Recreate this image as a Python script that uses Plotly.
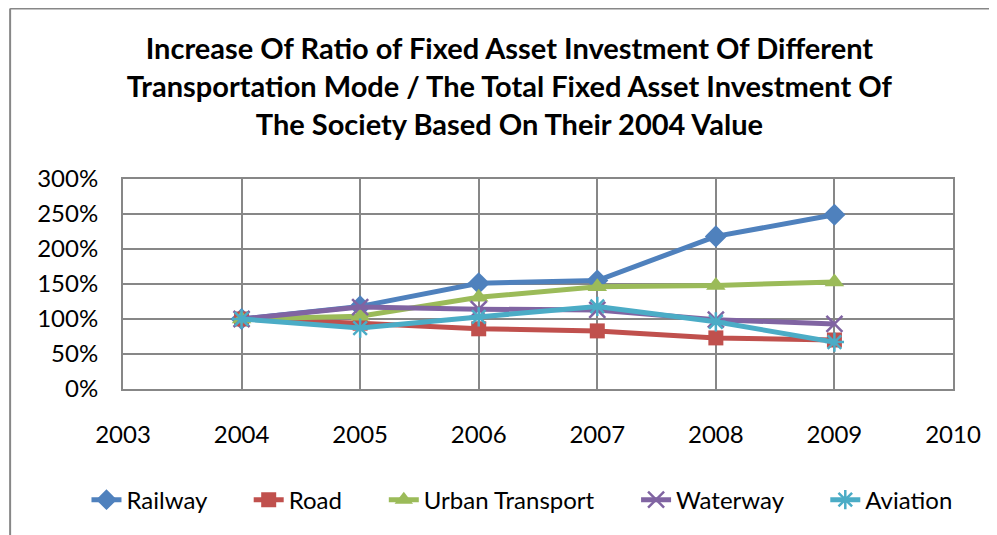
import plotly.graph_objects as go

years = [2004, 2005, 2006, 2007, 2008, 2009]
railway = [1.00, 1.18, 1.51, 1.55, 2.18, 2.49]
road = [1.00, 0.94, 0.86, 0.83, 0.73, 0.70]
urban = [1.00, 1.04, 1.31, 1.46, 1.48, 1.53]
waterway = [1.00, 1.17, 1.14, 1.13, 0.99, 0.93]
aviation = [1.00, 0.87, 1.03, 1.18, 0.96, 0.67]

names = ["Railway", "Road", "Urban Transport", "Waterway", "Aviation"]
values = [railway, road, urban, waterway, aviation]
colors = ["#4F81BD", "#C0504D", "#9BBB59", "#8064A2", "#4BACC6"]
symbols = ["diamond", "square", "triangle-up", "x-thin-open", "asterisk-open"]
sizes = [17, 15, 17, 16, 16]
outline = [0, 0, 0, 2.5, 2.5]

FONT = "Lato, 'Open Sans', sans-serif"
PAD = "\u00a0" * 6

fig = go.Figure()
for i, (name, vals, color, sym, size, lw) in enumerate(
        zip(names, values, colors, symbols, sizes, outline)):
    marker = dict(symbol=sym, size=size, color=color)
    if lw:
        marker["line"] = dict(color=color, width=lw)
    label = name + (PAD if i < len(names) - 1 else "")
    fig.add_trace(go.Scatter(
        x=years, y=vals, name=label, mode="lines+markers",
        line=dict(color=color, width=5), marker=marker,
    ))

fig.update_layout(
    width=989, height=527,
    margin=dict(l=115, r=44, t=171, b=146),
    paper_bgcolor="white", plot_bgcolor="white",
    font=dict(family=FONT, size=24, color="black"),
    title=dict(
        text="<b>Increase Of Ratio of Fixed Asset Investment Of Different<br>"
             "Transportation Mode / The Total Fixed Asset Investment Of<br>"
             "The Society Based On Their 2004 Value</b>",
        x=0.507, xanchor="center", y=0.903, yanchor="middle",
        font=dict(family=FONT, size=29, color="black"),
    ),
    xaxis=dict(
        range=[2003, 2010], tickmode="array",
        tickvals=[2003, 2004, 2005, 2006, 2007, 2008, 2009, 2010],
        showgrid=True, gridcolor="#878787", gridwidth=2,
        showline=True, linecolor="#878787", linewidth=2, mirror=True,
        zeroline=False, ticks="", ticklabelstandoff=23,
        tickfont=dict(size=24),
    ),
    yaxis=dict(
        range=[0, 3], tickvals=[0, 0.5, 1, 1.5, 2, 2.5, 3], tickformat=".0%",
        showgrid=True, gridcolor="#878787", gridwidth=2,
        showline=True, linecolor="#878787", linewidth=2, mirror=True,
        zeroline=False, ticks="", ticklabelstandoff=18,
        tickfont=dict(size=24),
    ),
    legend=dict(
        orientation="h", x=-0.044, xanchor="left", y=-0.529, yanchor="middle",
        font=dict(size=24), itemwidth=30, tracegroupgap=0,
    ),
    showlegend=True,
)

fig.add_shape(type="line", xref="paper", yref="paper",
              x0=-0.136, x1=1.1, y0=1.812, y1=1.812,
              line=dict(color="#878787", width=2))
fig.add_shape(type="line", xref="paper", yref="paper",
              x0=-0.136, x1=-0.136, y0=1.812, y1=-0.75,
              line=dict(color="#878787", width=2))

fig.write_html("out.html")
